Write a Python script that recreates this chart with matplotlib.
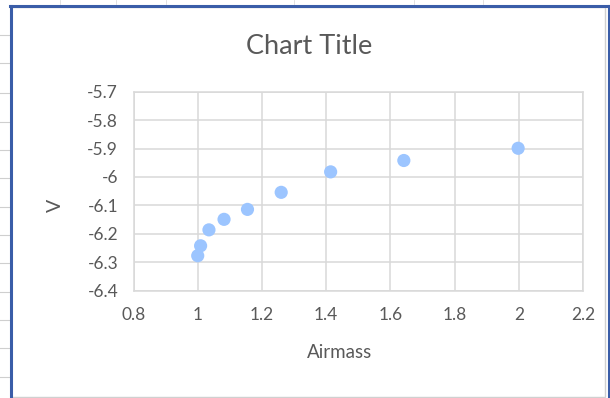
import matplotlib
matplotlib.use("Agg")
import matplotlib.pyplot as plt
from matplotlib.lines import Line2D
from matplotlib.patches import Rectangle

# ── data ──────────────────────────────────────────────────────────────────────
airmass = [1.000, 1.009, 1.035, 1.082, 1.155, 1.260, 1.414, 1.642, 1.998]
v_mag   = [-6.277, -6.242, -6.186, -6.149, -6.114, -6.054, -5.982, -5.942, -5.899]
x_ticks = [0.8, 1.0, 1.2, 1.4, 1.6, 1.8, 2.0, 2.2]
x_tick_labels = ["0.8", "1", "1.2", "1.4", "1.6", "1.8", "2", "2.2"]
y_ticks = [-6.4, -6.3, -6.2, -6.1, -6.0, -5.9, -5.8, -5.7]
y_tick_labels = ["-6.4", "-6.3", "-6.2", "-6.1", "-6", "-5.9", "-5.8", "-5.7"]

plt.rcParams["font.family"] = ["Lato", "DejaVu Sans"]
TXT  = "#595959"
GRID = "#d9d9d9"
W, H = 610, 398

fig = plt.figure(figsize=(W / 100, H / 100), dpi=100)

# ── spreadsheet background + chart frame ──────────────────────────────────────
def px(x, y):
    return x / W, 1 - y / H

for yy in [35, 63, 93, 122, 150, 178, 207, 235, 263, 292, 320, 348, 377]:
    fig.add_artist(Line2D([0, 10 / W], [1 - yy / H] * 2, color="#cfcfcf", lw=0.8, zorder=-2))
for xx in [60, 116, 166, 294, 414, 483]:
    fig.add_artist(Line2D([xx / W] * 2, [1, 1 - 4 / H], color="#dcdcdc", lw=0.6, zorder=-2))

fig.add_artist(Rectangle(px(11, 397), 594 / W, 390 / H, facecolor="white",
                         edgecolor="#d0d0d0", lw=1.0, zorder=-1))
fig.add_artist(Line2D([10.5 / W] * 2, [0, 1 - 6 / H], color="#3a5da8", lw=2.2, zorder=-1))
fig.add_artist(Line2D([10 / W, 608.5 / W], [1 - 6 / H] * 2, color="#3a5da8", lw=2.2, zorder=-1))
fig.add_artist(Line2D([608.5 / W] * 2, [0, 1 - 6 / H], color="#3a5da8", lw=2.2, zorder=-1))

# ── plot area ─────────────────────────────────────────────────────────────────
l, r, t, b = 133.5, 583, 91.7, 290.7
ax = fig.add_axes([l / W, 1 - b / H, (r - l) / W, (b - t) / H])
ax.set_zorder(2)
ax.set_facecolor("none")
ax.scatter(airmass, v_mag, s=90, color="#9cc5ff", edgecolors="none", zorder=3)

ax.set_xlim(0.8, 2.2)
ax.set_ylim(-6.4, -5.7)
ax.set_xticks(x_ticks)
ax.set_xticklabels(x_tick_labels)
ax.set_yticks(y_ticks)
ax.set_yticklabels(y_tick_labels)
ax.grid(True, color=GRID, lw=1.1)
ax.set_axisbelow(True)
for s in ax.spines.values():
    s.set_color(GRID)
    s.set_linewidth(1.1)
ax.tick_params(axis="both", length=0, colors=TXT, labelsize=12.5)
ax.tick_params(axis="x", pad=12)
ax.tick_params(axis="y", pad=11)

fig.text(309 / W, 1 - 47 / H, "Chart Title", ha="center", va="center",
         fontsize=19.5, color=TXT)
fig.text(340 / W, 1 - 352 / H, "Airmass", ha="center", va="center",
         fontsize=13.5, color=TXT)
fig.text(55 / W, 1 - 205 / H, "V", ha="center", va="center",
         fontsize=14, color=TXT, rotation=90)

fig.savefig("out.png", dpi=100)
